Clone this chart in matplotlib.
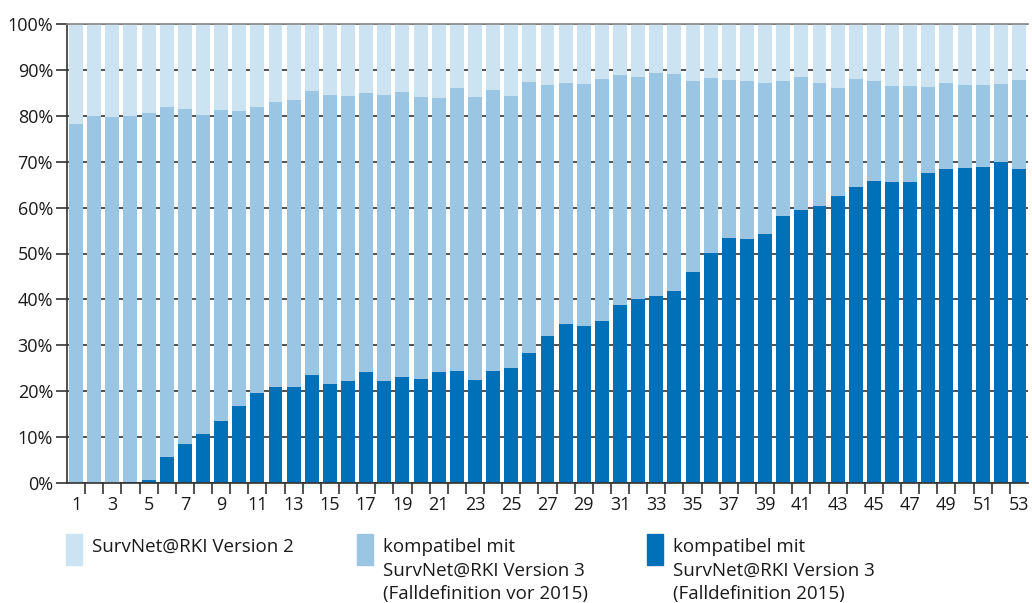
import numpy as np
import matplotlib
matplotlib.use('Agg')
import matplotlib.pyplot as plt
from matplotlib.patches import Rectangle

# Anteile je Meldewoche (in %)
weeks = np.arange(1, 54)

# Fälle kompatibel mit SurvNet@RKI Version 3 (Falldefinition 2015)
v3_2015 = [0.0, 0.0, 0.0, 0.2, 0.7, 5.7, 8.4, 10.7, 13.4, 16.8,
           19.7, 21.0, 21.0, 23.6, 21.6, 22.3, 24.2, 22.2, 23.1, 22.7,
           24.2, 24.5, 22.5, 24.5, 25.0, 28.4, 32.1, 34.7, 34.3, 35.4,
           38.8, 40.1, 40.8, 41.9, 46.0, 50.2, 53.4, 53.2, 54.2, 58.2,
           59.5, 60.4, 62.6, 64.5, 65.8, 65.5, 65.6, 67.6, 68.5, 68.7,
           68.9, 69.9, 68.5]

# Summe Version 3 (vor 2015 + 2015) = Oberkante der mittelblauen Balken
v3_total = [78.2, 79.9, 79.7, 80.0, 80.6, 81.9, 81.5, 80.2, 81.3, 81.0,
            81.9, 82.9, 83.4, 85.4, 84.5, 84.3, 84.9, 84.5, 85.2, 84.0,
            83.9, 86.1, 84.0, 85.6, 84.3, 87.4, 86.7, 87.2, 86.9, 88.0,
            88.8, 88.5, 89.3, 89.1, 87.6, 88.2, 87.8, 87.6, 87.1, 87.6,
            88.4, 87.1, 86.1, 88.0, 87.6, 86.4, 86.6, 86.3, 87.1, 86.7,
            86.7, 86.9, 87.8]

v3_2015 = np.array(v3_2015)
v3_vor2015 = np.array(v3_total) - v3_2015
v2 = 100 - np.array(v3_total)

labels = ['SurvNet@RKI Version 2',
          'kompatibel mit\nSurvNet@RKI Version 3\n(Falldefinition vor 2015)',
          'kompatibel mit\nSurvNet@RKI Version 3\n(Falldefinition 2015)']
colors = ['#cce3f1', '#9ac6e3', '#0071b9']

plt.rcParams['font.family'] = ['Open Sans', 'DejaVu Sans']

fig = plt.figure(figsize=(10.32, 6.03), dpi=100)
ax = fig.add_axes([67 / 1032, 1 - 483 / 603, 961 / 1032, 459 / 603])

w = 0.77
ax.bar(weeks, v3_2015, width=w, color=colors[2], zorder=2)
ax.bar(weeks, v3_vor2015, width=w, bottom=v3_2015, color=colors[1], zorder=2)
ax.bar(weeks, v2, width=w, bottom=v3_2015 + v3_vor2015, color=colors[0], zorder=2)

ax.set_xlim(0.5, 53.5)
ax.set_ylim(0, 100)

# horizontal grid behind bars
ax.set_yticks(np.arange(0, 101, 10))
ax.set_yticklabels([f'{v}%' for v in range(0, 101, 10)])
ax.yaxis.grid(True, color='#333333', linewidth=1.2, zorder=0)
ax.set_axisbelow(True)
ax.tick_params(axis='y', length=8, width=1.2, color='#333333', pad=2,
               labelsize=13, labelcolor='#1a1a1a')

# x: labels on odd weeks, ticks between bars
ax.set_xticks(weeks[::2])
ax.set_xticklabels([str(k) for k in weeks[::2]])
ax.set_xticks(np.arange(1.5, 53, 1), minor=True)
ax.tick_params(axis='x', which='major', length=0, pad=9, labelsize=13,
               labelcolor='#1a1a1a')
ax.tick_params(axis='x', which='minor', length=8, width=1.2, color='#333333')

for s in ['left', 'bottom']:
    ax.spines[s].set_color('#333333')
    ax.spines[s].set_linewidth(1.2)
ax.spines['right'].set_visible(False)
ax.spines['top'].set_color('#888888')
ax.spines['top'].set_linewidth(1.2)

# legend below plot
leg_x = [66, 357, 647]
for x0, lab, c in zip(leg_x, labels, colors):
    fig.add_artist(Rectangle((x0 / 1032, 1 - 565 / 603), 16 / 1032, 31 / 603,
                             transform=fig.transFigure, color=c))
    fig.text((x0 + 26) / 1032, 1 - 538 / 603, lab, ha='left', va='top',
             fontsize=13.5, color='#1a1a1a', linespacing=1.38)

fig.savefig('out.png', dpi=100)
